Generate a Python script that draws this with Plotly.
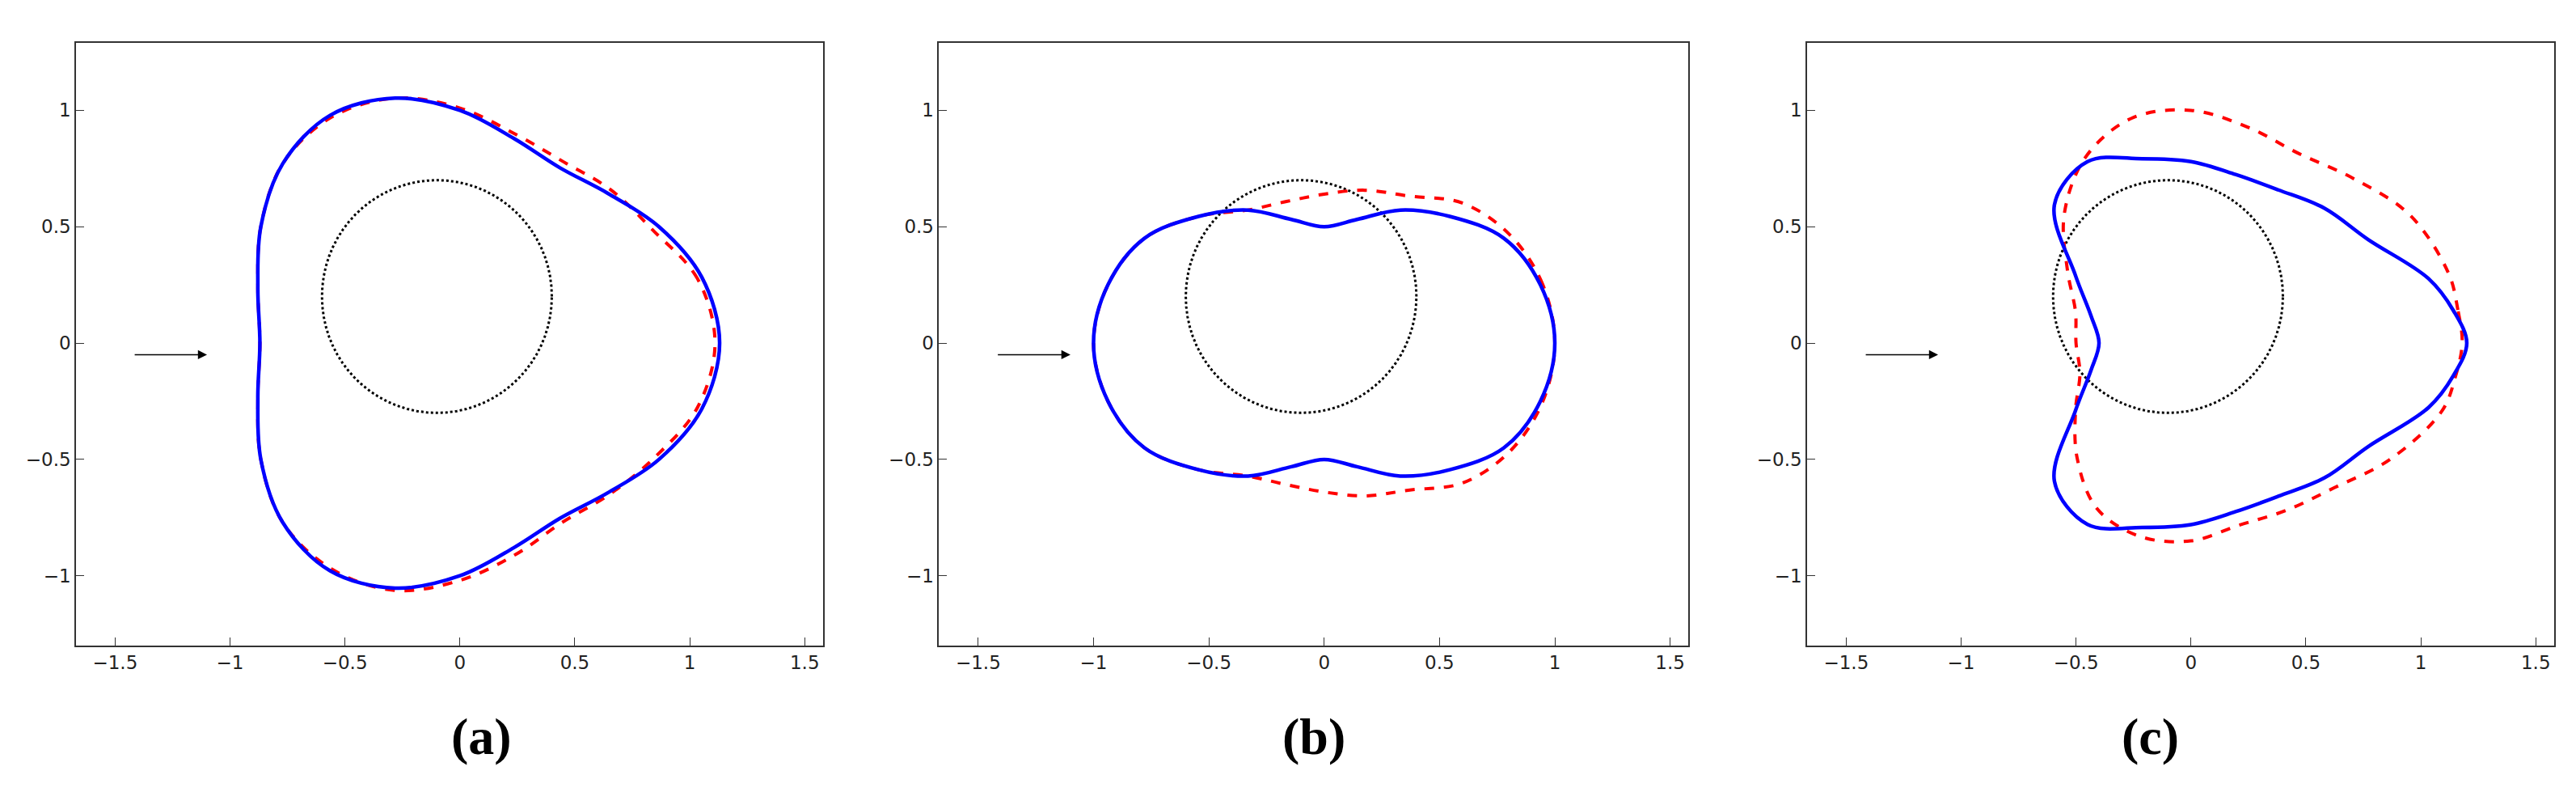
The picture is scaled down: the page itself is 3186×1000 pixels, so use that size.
import numpy as np
import plotly.graph_objects as go

ang = list(range(0, 360, 15))
c_ang = [0, 7] + list(range(15, 360, 15)) + [353]

# panel (a)
a_blue = [1.13,1.09,1.00,0.91,0.87,0.91,1.00,1.09,1.13,1.09,1.00,0.91,0.87,
          0.91,1.00,1.09,1.13,1.09,1.00,0.91,0.87,0.91,1.00,1.09]
a_red  = [1.11,1.07,0.97,0.93,0.90,0.93,1.01,1.09,1.12,1.09,1.00,0.91,0.87,
          0.91,1.00,1.09,1.12,1.10,1.02,0.94,0.89,0.92,0.98,1.07]
# panel (b)
b_blue = [1.00,0.97,0.90,0.77,0.66,0.55,0.50,0.55,0.66,0.77,0.90,0.97,1.00,
          0.97,0.90,0.77,0.66,0.55,0.50,0.55,0.66,0.77,0.90,0.97]
b_red  = [1.00,0.98,0.93,0.85,0.73,0.68,0.64,0.63,0.66,0.77,0.90,0.97,1.00,
          0.97,0.90,0.77,0.66,0.63,0.64,0.68,0.73,0.85,0.93,0.98]
# panel (c) (angles c_ang)
c_blue = [1.20,1.15,1.07,0.89,0.82,0.76,0.75,0.78,0.82,0.90,0.84,0.58,0.45,0.40,
          0.45,0.58,0.84,0.90,0.82,0.78,0.75,0.76,0.82,0.89,1.07,1.15]
c_red  = [1.18,1.17,1.16,1.10,1.00,0.94,0.96,1.00,1.00,0.92,0.78,0.62,0.52,0.50,
          0.50,0.58,0.70,0.82,0.86,0.85,0.81,0.83,0.88,1.00,1.13,1.16]

circle_center = (-0.1, 0.2)
circle_r = [0.5] * 72
circle_ang = list(range(0, 360, 5))
arrow_start = (-1.42, -0.05)
arrow_end = (-1.1, -0.05)
labels = ["(a)", "(b)", "(c)"]
ticks = [-1.5, -1, -0.5, 0, 0.5, 1, 1.5]
yticks = [-1, -0.5, 0, 0.5, 1]

def xy(r, deg, c=(0, 0)):
    t = np.deg2rad(list(deg) + [deg[0]])
    r = np.array(list(r) + [r[0]])
    return c[0] + r*np.cos(t), c[1] + r*np.sin(t)

fig = go.Figure()
doms = [(0.027, 0.317), (0.362, 0.653), (0.699, 0.989)]
panels = [(a_blue, a_red, ang), (b_blue, b_red, ang), (c_blue, c_red, c_ang)]
for i, ((bl, rd, an), dom) in enumerate(zip(panels, doms)):
    n = "" if i == 0 else str(i+1)
    xa, ya = "x"+n, "y"+n
    cx, cy = xy(circle_r, circle_ang, circle_center)
    fig.add_trace(go.Scatter(x=cx, y=cy, mode="lines", xaxis=xa, yaxis=ya,
                             line=dict(color="black", width=3, dash="dot")))
    x, y = xy(rd, an)
    fig.add_trace(go.Scatter(x=x, y=y, mode="lines", xaxis=xa, yaxis=ya, line_shape="spline",
                             line=dict(color="#ff0000", width=4, dash="dash")))
    x, y = xy(bl, an)
    fig.add_trace(go.Scatter(x=x, y=y, mode="lines", xaxis=xa, yaxis=ya, line_shape="spline",
                             line=dict(color="#0000ff", width=4.5)))
    fig.add_annotation(x=arrow_end[0], y=arrow_end[1], ax=arrow_start[0], ay=arrow_start[1],
                       xref=xa, yref=ya, axref=xa, ayref=ya, showarrow=True,
                       arrowhead=2, arrowsize=1.5, arrowwidth=1.5, arrowcolor="black", text="")
    fig.add_annotation(x=(dom[0]+dom[1])/2, y=0.06, xref="paper", yref="paper", showarrow=False,
                       text="<b>"+labels[i]+"</b>",
                       font=dict(family="Liberation Serif", size=64, color="black"))
    ax = dict(showline=True, mirror=True, linecolor="#333", linewidth=1.5, ticks="inside",
              ticklen=10, tickcolor="#333", showgrid=False, zeroline=False,
              tickfont=dict(family="DejaVu Sans", size=23, color="#222"))
    fig.layout["xaxis"+n] = dict(ax, domain=list(dom), range=[-1.67, 1.58], tickvals=ticks,
                                 anchor=ya)
    fig.layout["yaxis"+n] = dict(ax, domain=[0.21, 0.955], range=[-1.30, 1.29], tickvals=yticks,
                                 anchor=xa)

fig.update_layout(width=3186, height=1000, showlegend=False, plot_bgcolor="white",
                  paper_bgcolor="white", margin=dict(l=0, r=0, t=0, b=0))
fig.write_html("out.html")
